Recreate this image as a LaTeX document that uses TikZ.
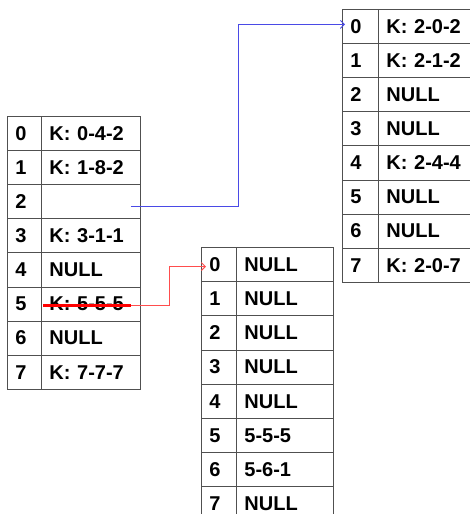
\documentclass[tikz,border=0pt]{standalone}
\usepackage{fontspec}
\setmainfont{Liberation Sans}
\usetikzlibrary{arrows.meta}
\definecolor{gridline}{HTML}{505050}
\definecolor{linkblue}{HTML}{4A4AE6}
\definecolor{linkred}{HTML}{FF4D4D}
\begin{document}
\begin{tikzpicture}[x=1pt,y=-1pt,
  cell/.style={draw=gridline, line width=0.8pt, anchor=north west,
    inner xsep=8pt, inner ysep=0pt, align=left,
    font=\bfseries\fontsize{20}{20}\selectfont},
  leftrow/.style={cell, minimum height=34.1pt},
  rightrow/.style={cell, minimum height=34.1pt},
  lowrow/.style={cell, minimum height=34.2pt},
  link/.style={line width=0.9pt, -{Straight Barb[length=4pt,width=8pt]}}]
\useasboundingbox (0,0) rectangle (470,514);
\clip (0,0) rectangle (470,514);
\fill[white] (0,0) rectangle (470,514);

% main table
\foreach \i/\t in {0/K: 0-4-2, 1/K: 1-8-2, 2/{}, 3/K: 3-1-1,
                   4/NULL, 5/K: 5-5-5, 6/NULL, 7/K: 7-7-7} {
  \node[leftrow, text width=18pt] (Li\i) at (7, {116+\i*34.1}) {\i};
  \node[leftrow, text width=83pt] (Lc\i) at (41, {116+\i*34.1}) {\t};
}

% table behind slot 2
\foreach \i/\t in {0/K: 2-0-2, 1/K: 2-1-2, 2/NULL, 3/NULL,
                   4/K: 2-4-4, 5/NULL, 6/NULL, 7/K: 2-0-7} {
  \node[rightrow, text width=20pt] (Ri\i) at (342, {9+\i*34.1}) {\i};
  \node[rightrow, text width=114pt] (Rc\i) at (378, {9+\i*34.1}) {\t};
}

% table behind slot 5
\foreach \i/\t in {0/NULL, 1/NULL, 2/NULL, 3/NULL,
                   4/NULL, 5/5-5-5, 6/5-6-1, 7/NULL} {
  \node[lowrow, text width=19pt] (Bi\i) at (201, {247+\i*34.2}) {\i};
  \node[lowrow, text width=81pt] (Bc\i) at (236, {247+\i*34.2}) {\t};
}

% link from slot 2
\coordinate (bs) at ([xshift=-10pt,yshift=-4.5pt]Lc2.east);
\draw[link, linkblue] (bs) -- ++(108,0) |- ([xshift=3pt,yshift=2pt]Ri0.west);

% slot 5 is struck out and relinked
\coordinate (rs) at ([xshift=-10pt,yshift=-1.5pt]Lc5.east);
\draw[red, line width=2.2pt] ([xshift=2pt]Lc5.west |- rs) -- (rs);
\draw[link, linkred] (rs) -- ++(39,0) |- ([xshift=5pt,yshift=-2pt]Bi0.west);
\end{tikzpicture}
\end{document}
